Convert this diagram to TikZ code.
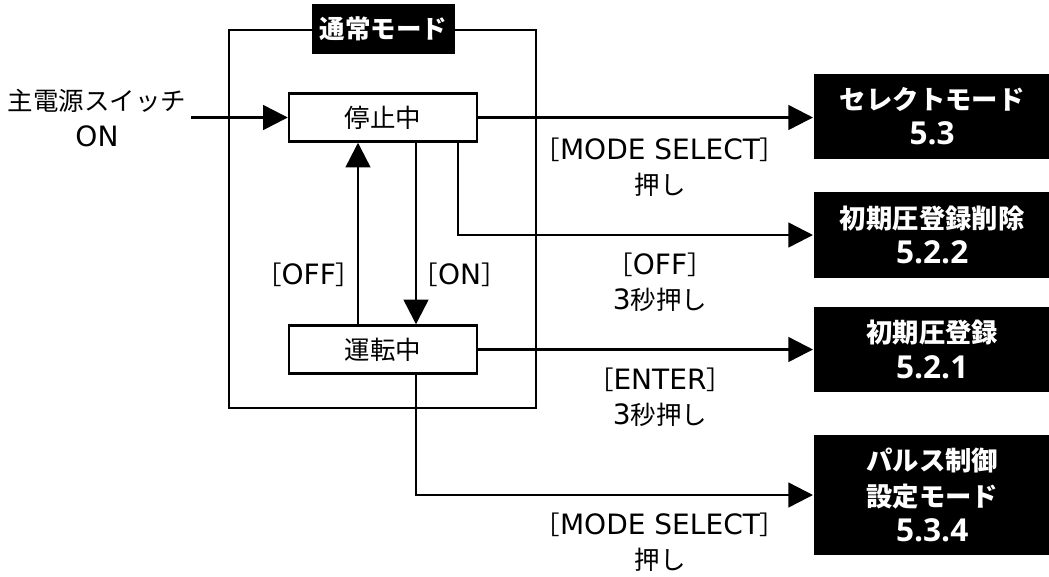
\documentclass[tikz,border=0pt]{standalone}
\usepackage{fontspec}
\setmainfont{Noto Sans CJK JP}
\newfontfamily\latinfont[Scale=1.1]{DejaVu Sans}
\newfontfamily\numfont[Scale=1.2]{Open Sans}
\newcommand{\latn}[1]{{\latinfont #1}}
\newcommand{\secno}[1]{{\numfont\bfseries #1}}
\usetikzlibrary{arrows.meta,positioning}

\begin{document}
\begin{tikzpicture}[x=0.02cm, y=-0.02cm,
    font=\fontsize{14.5}{20}\selectfont,
    line width=1.4pt,
    arr/.style={-{Triangle[length=14pt,width=14pt]}},
    state/.style={draw, minimum width=3.76cm, minimum height=0.96cm, inner sep=0pt},
    target/.style={fill=black, text=white, font=\fontsize{15}{20}\selectfont\bfseries,
                   align=center, minimum width=4.72cm, inner sep=0pt, anchor=west},
    note/.style={align=center}]
  \useasboundingbox (0,0) rectangle (1049,576);

  % frame of the normal mode, title on its top edge
  \draw (229,30) rectangle (536,408);
  \node[fill=black, text=white, font=\fontsize{14.5}{20}\selectfont\bfseries,
        minimum width=2.86cm, minimum height=1cm] (mode) at (383.5,29) {通常モード};

  \node[state] (stop) at (383,117.5) {停止中};
  \node[state] (run) at (383,349.5) {運転中};

  % modes reached from the normal mode
  \node[target, minimum height=1.7cm] (sel) at (813,116.5) {セレクトモード\\\secno{5.3}};
  \node[target, minimum height=1.72cm] (del) at (813,235) {初期圧登録削除\\\secno{5.2.2}};
  \node[target, minimum height=1.7cm] (reg) at (813,349.5) {初期圧登録\\\secno{5.2.1}};
  \node[target, minimum height=2.4cm] (pulse) at (813,495) {パルス制御\\設定モード\\\secno{5.3.4}};

  \node[note] (src) at (97,118) {主電源スイッチ\\\latn{ON}};
  \coordinate (in) at (191,117.5);
  \coordinate (offx) at (358,0);
  \coordinate (onx) at (416,0);
  \coordinate (delx) at (458,0);

  \draw[arr] (in) -- (stop.west);
  \draw[arr] (stop.east) -- (stop.east -| sel.west);
  \draw[arr] (stop.south -| delx) |- (del.west);
  \draw[arr] (run.north -| offx) -- (stop.south -| offx)
    node[pos=0.27, left=-6pt] {［\latn{OFF}］};
  \draw[arr] (stop.south -| onx) -- (run.north -| onx)
    node[pos=0.73, right=-6pt] {［\latn{ON}］};
  \draw[arr] (run.east) -- (run.east -| reg.west);
  \draw[arr] (run.south -| onx) |- (pulse.west);

  % key presses
  \node[note] (k1) at (660,167) {［\latn{MODE SELECT}］\\押し};
  \node[note] (k2) at (660,282) {［\latn{OFF}］\\\latn{3}秒押し};
  \node[note] (k3) at (660,397) {［\latn{ENTER}］\\\latn{3}秒押し};
  \node[note] (k4) at (660,542) {［\latn{MODE SELECT}］\\押し};
\end{tikzpicture}
\end{document}
